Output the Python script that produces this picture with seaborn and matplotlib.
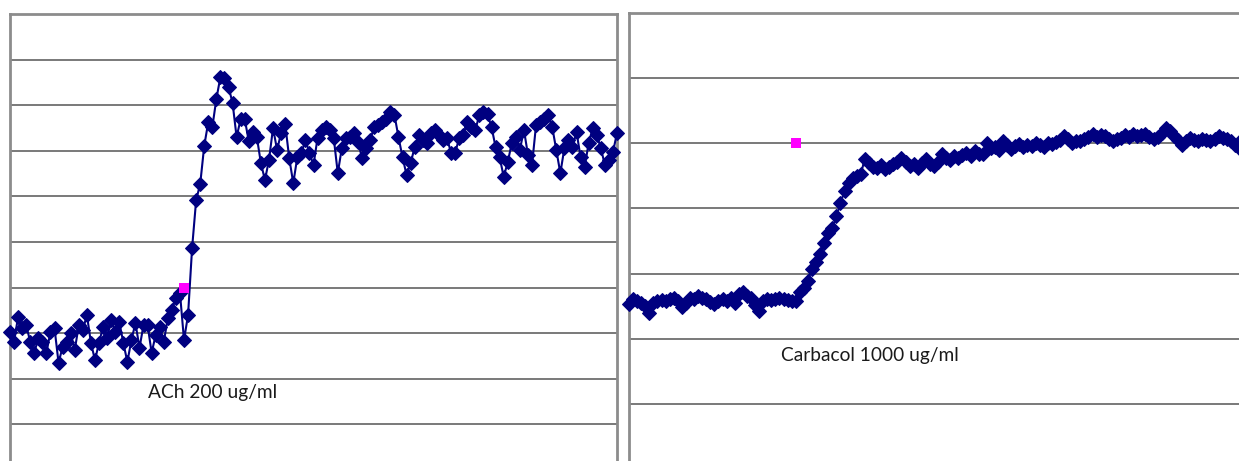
import matplotlib.pyplot as plt
import seaborn as sns
import numpy as np

# ACh 200 ug/ml trace (left panel)
ach_baseline = [3.03, 2.81, 3.36, 3.11, 3.18, 2.81, 2.57, 2.89, 2.81, 2.57,
                3.03, 3.11, 2.35, 2.70, 2.81, 3.00, 2.63, 3.18, 3.07, 3.40,
                2.79, 2.41, 2.79, 3.14, 2.89, 3.29, 3.03, 3.25, 2.79, 2.37,
                2.85, 3.22, 2.68, 3.18, 3.18, 2.57, 2.96, 3.14, 2.81, 3.33,
                3.51, 3.77, 3.88, 2.85, 3.40]
ach_rise = [4.87, 5.92, 6.27, 7.11, 7.63, 7.52, 8.14, 8.62, 8.60, 8.40,
            8.05, 7.30, 7.70, 7.70, 7.21, 7.41, 7.30, 6.73, 6.36, 6.80,
            7.50, 7.02, 7.39, 7.59, 6.84, 6.29]
ach_plateau = [6.86, 6.95, 7.24, 6.95, 6.69, 7.28, 7.46, 7.52, 7.45, 7.28,
               6.51, 7.06, 7.28, 7.30, 7.39, 7.20, 6.84, 7.06, 7.24, 7.52,
               7.57, 7.63, 7.70, 7.85, 7.79, 7.30, 6.86, 6.47, 6.73, 7.08,
               7.35, 7.24, 7.17, 7.39, 7.46, 7.35, 7.24, 7.28, 6.95, 6.95,
               7.28, 7.35, 7.63, 7.52, 7.46, 7.79, 7.85, 7.80, 7.52, 7.08,
               6.86, 6.43, 6.75, 7.17, 7.30, 7.02, 7.46, 6.91, 6.69, 7.57,
               7.63, 7.70, 7.79, 7.52, 7.02, 6.51, 7.06, 7.24, 7.08, 7.41,
               6.86, 6.64, 7.17, 7.50, 7.35, 7.06, 6.69, 6.80, 6.97, 7.39]
ach_values = ach_baseline + ach_rise + ach_plateau
ach_dose_idx = [43]
ach_dose_val = [4.0]

# Carbacol 1000 ug/ml trace (right panel)
cch_baseline = [2.54, 2.61, 2.58, 2.55, 2.50, 2.39, 2.55, 2.58, 2.60, 2.58,
                2.61, 2.63, 2.58, 2.48, 2.55, 2.63, 2.61, 2.66, 2.63, 2.61,
                2.57, 2.54, 2.58, 2.61, 2.58, 2.63, 2.55, 2.69, 2.71, 2.66,
                2.63, 2.52, 2.43, 2.58, 2.61, 2.60, 2.61, 2.63, 2.61, 2.60,
                2.58, 2.58]
cch_rise = [2.71, 2.78, 2.89, 3.07, 3.17, 3.30, 3.47, 3.62, 3.70, 3.88,
            4.08, 4.27, 4.39, 4.46, 4.50, 4.53, 4.76]
cch_plateau = [4.70, 4.64, 4.62, 4.66, 4.60, 4.63, 4.68, 4.72, 4.77,
               4.71, 4.65, 4.68, 4.62, 4.70, 4.76, 4.68, 4.65, 4.72, 4.83,
               4.78, 4.74, 4.80, 4.77, 4.82, 4.85, 4.81, 4.88, 4.84, 4.83,
               5.00, 4.92, 4.95, 4.90, 5.03, 4.97, 4.91, 4.96, 4.99, 4.95,
               4.98, 4.96, 5.00, 4.98, 4.95, 5.00, 4.99, 5.02, 5.05, 5.11,
               5.06, 5.00, 5.04, 5.03, 5.07, 5.10, 5.15, 5.09, 5.13, 5.11,
               5.06, 5.03, 5.07, 5.08, 5.12, 5.10, 5.14, 5.11, 5.13, 5.15,
               5.10, 5.06, 5.09, 5.16, 5.23, 5.19, 5.11, 5.05, 4.98, 5.04,
               5.08, 5.05, 5.03, 5.07, 5.05, 5.03, 5.06, 5.11, 5.08, 5.06,
               5.04, 4.97, 4.92, 5.08]
cch_values = cch_baseline + cch_rise + cch_plateau
cch_dose_idx = [41]
cch_dose_val = [5.0]

sns.set_style('white')
plt.rcParams['font.family'] = ['Lato', 'DejaVu Sans']

LINE = '#000080'
DOSE = '#FF00FF'
FRAME = '#8c8c8c'
GRID = '#6e6e6e'

W, H = 1239, 461
fig = plt.figure(figsize=(W / 100, H / 100), dpi=100)


def px_axes(x0, x1, y0, y1):
    # axes box given in pixel edges (top-left origin)
    return fig.add_axes([x0 / W, 1 - y1 / H, (x1 - x0) / W, (y1 - y0) / H])


def draw_trace(ax, values, dose_idx, dose_val, ymax, label, lx, ly):
    idx = np.arange(len(values))
    sns.lineplot(x=idx, y=values, ax=ax, color=LINE, linewidth=1.5,
                 marker='D', markersize=6.8, markeredgecolor=LINE,
                 markerfacecolor=LINE, clip_on=False, zorder=3)
    sns.scatterplot(x=dose_idx, y=dose_val, ax=ax, color=DOSE, marker='s',
                    s=60, linewidth=0, zorder=4, clip_on=False)
    ax.set_xlim(0, len(values) - 1)
    ax.set_ylim(0, ymax)
    ax.set_yticks(range(1, ymax))
    ax.set_xticks([])
    ax.set_yticklabels([])
    ax.tick_params(length=0)
    ax.yaxis.grid(True, color=GRID, linewidth=1.3)
    ax.set_axisbelow(True)
    for side in ['left', 'top', 'right']:
        ax.spines[side].set_color(FRAME)
        ax.spines[side].set_linewidth(2)
    ax.spines['bottom'].set_visible(False)
    ax.set_xlabel('')
    ax.set_ylabel('')
    ax.text(lx, ly, label, transform=ax.transAxes, ha='center', va='center',
            fontsize=13.8, color='#1a1a1a')


ax1 = px_axes(10, 617, 14, 470)
draw_trace(ax1, ach_values, ach_dose_idx, ach_dose_val, 10,
           'ACh 200 ug/ml', 0.334, 0.171)

ax2 = px_axes(629, 1243, 13, 469)
draw_trace(ax2, cch_values, cch_dose_idx, cch_dose_val, 7,
           'Carbacol 1000 ug/ml', 0.392, 0.25)
ax2.spines['right'].set_visible(False)

fig.savefig('out.png', dpi=100)
